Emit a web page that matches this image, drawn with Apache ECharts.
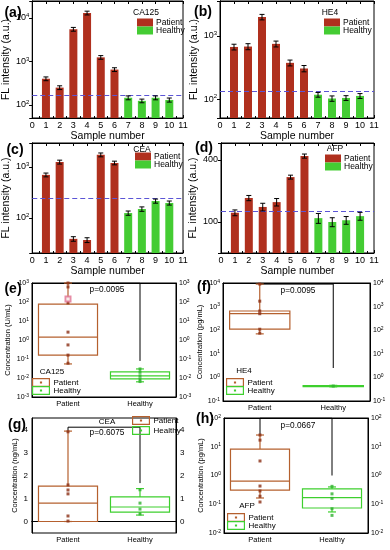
<!DOCTYPE html>
<html><head><meta charset="utf-8">
<script src="https://cdn.jsdelivr.net/npm/echarts@6/dist/echarts.min.js"></script>
<style>html,body{margin:0;padding:0;background:#fff}#c{width:390px;height:550px}</style>
</head><body><div id="c"></div>
<script>
// ---------------- DATA ----------------
const sampleTicks = [0,1,2,3,4,5,6,7,8,9,10,11];
const patientSamples = [1,2,3,4,5,6];
const healthySamples = [7,8,9,10];

const ca125Patient = [400, 250, 5500, 13000, 1240, 650];
const ca125PatientErr = [40, 25, 550, 1300, 120, 65];
const ca125Healthy = [146, 124, 146, 130];
const ca125HealthyErr = [15, 12, 15, 14];
const ca125Cutoff = 170;

const he4Patient = [670, 680, 2000, 750, 375, 305];
const he4PatientErr = [70, 75, 200, 80, 40, 35];
const he4Healthy = [117, 102, 104, 112];
const he4HealthyErr = [10, 10, 9, 10];
const he4Cutoff = 135;

const ceaPatient = [700, 1250, 39, 37, 1730, 1200];
const ceaPatientErr = [60, 110, 4, 4, 150, 100];
const ceaHealthy = [125, 150, 215, 197];
const ceaHealthyErr = [12, 15, 20, 18];
const ceaCutoff = 245;

const afpPatient = [123, 171, 140, 156, 273, 437];
const afpPatientErr = [8, 10, 12, 13, 12, 20];
const afpHealthy = [109, 100, 104, 114];
const afpHealthyErr = [12, 10, 9, 10];
const afpCutoff = 126;
const afpTicks = [100, 400];

const groups = ['Patient', 'Healthy'];
// box stats: [min, Q1, median, Q3, max]
const ca125BoxPatient = [0.055, 0.16, 1.4, 78, 1000];
const ca125BoxHealthy = [0.0063, 0.0089, 0.013, 0.021, 0.03];
const ca125DotsPatient = [1000, 620, 90, 2.6, 0.55, 0.16, 0.06];
const ca125DotsHealthy = [0.03, 0.02, 0.013, 0.009, 0.0065];
const ca125MeanPatient = [144];
const ca125Bracket = [1000, 1000, 0.079]; // patient leg start, top, healthy leg end
const ca125PValue = 'p=0.0095';

const he4BoxPatient = [70, 110, 500, 650, 9000];
const he4BoxHealthy = [0.40, 0.41, 0.43, 0.45, 0.46];
const he4DotsPatient = [9000, 1700, 650, 500, 110, 75];
const he4DotsHealthy = [0.43];
const he4Bracket = [9000, 9000, 2.5];
const he4PValue = 'p=0.0095';

const ceaBoxPatient = [0, 0, 0.8, 1.54, 3.93];
const ceaBoxHealthy = [0.28, 0.41, 0.63, 1.07, 1.43];
const ceaDotsPatient = [3.9, 1.59, 1.37, 1.2, 0.24, 0.02];
const ceaDotsHealthy = [1.38, 0.8, 0.54, 0.33];
const ceaBracket = [3.93, 4.1, 1.67];
const ceaPValue = 'p=0.6075';
const ceaTicks = [0, 1, 2, 3, 4];

const afpBoxPatient = [0.165, 0.31, 0.64, 8.3, 25.6];
const afpBoxHealthy = [0.054, 0.074, 0.17, 0.34, 0.40];
const afpDotsPatient = [25.6, 17, 3.2, 0.43, 0.29, 0.19, 0.12];
const afpDotsHealthy = [0.42, 0.23, 0.16, 0.07, 0.041];
const afpBracket = [25.6, 100, 1.0];
const afpPValue = 'p=0.0667';

// ---------------- STYLE ----------------
const FONT = '"Liberation Sans", Arial, sans-serif';
const PAT = '#b0301e', HEA = '#44cc33';
const PATBOX = '#b5602e', HEABOX = '#3ecf2e';
const PATDOT = '#8b3015', HEADOT = '#30b030';

function logLabel(fs, ss) {
  return {
    fontFamily: FONT, color: '#000', fontSize: fs,
    formatter: v => '{b|10}{s|' + Math.round(Math.log10(v)) + '}',
    rich: { b: { fontSize: fs, fontFamily: FONT, color: '#000' },
            s: { fontSize: ss, fontFamily: FONT, color: '#000', verticalAlign: 'top', padding: [0,0,fs*0.5,0] } }
  };
}

const grids = [], xAxes = [], yAxes = [], series = [], legends = [], graphics = [];

function errRender(params, api) {
  const x = api.value(0), v = api.value(1), e = api.value(2);
  const p1 = api.coord([x, v + e]), p2 = api.coord([x, v - e]);
  const cw = 2.5, st = { stroke: '#000', lineWidth: 1 };
  return { type: 'group', children: [
    { type: 'line', shape: { x1: p1[0], y1: p1[1], x2: p2[0], y2: p2[1] }, style: st },
    { type: 'line', shape: { x1: p1[0]-cw, y1: p1[1], x2: p1[0]+cw, y2: p1[1] }, style: st },
    { type: 'line', shape: { x1: p2[0]-cw, y1: p2[1], x2: p2[0]+cw, y2: p2[1] }, style: st }
  ]};
}

function boxRender(color) {
  return function (params, api) {
    const c = api.value(0);
    const mn = api.value(1), q1 = api.value(2), md = api.value(3), q3 = api.value(4), mx = api.value(5);
    const a = api.coord([c, q3]), b = api.coord([c, q1]);
    const band = Math.abs(api.coord([1, md])[0] - api.coord([0, md])[0]);
    const hw = band * 0.41, x = a[0];
    const ymd = api.coord([c, md])[1], ymn = api.coord([c, mn])[1], ymx = api.coord([c, mx])[1];
    const st = { stroke: color, lineWidth: 1.2, fill: 'transparent' };
    const cw = 4;
    return { type: 'group', children: [
      { type: 'rect', shape: { x: x-hw, y: a[1], width: 2*hw, height: Math.max(b[1]-a[1], 0.5) }, style: st },
      { type: 'line', shape: { x1: x-hw, y1: ymd, x2: x+hw, y2: ymd }, style: st },
      { type: 'line', shape: { x1: x, y1: a[1], x2: x, y2: ymx }, style: st },
      { type: 'line', shape: { x1: x, y1: b[1], x2: x, y2: ymn }, style: st },
      { type: 'line', shape: { x1: x-cw, y1: ymx, x2: x+cw, y2: ymx }, style: st },
      { type: 'line', shape: { x1: x-cw, y1: ymn, x2: x+cw, y2: ymn }, style: st }
    ]};
  };
}

function text(x, y, t, fs, bold, align) {
  graphics.push({ type: 'text', x: x, y: y, style: { text: t, fontSize: fs, fontFamily: FONT,
    fontWeight: bold ? 'bold' : 'normal', fill: '#000', align: align || 'center', verticalAlign: 'middle' } });
}

function barPanel(p) {
  const gi = grids.length;
  grids.push(Object.assign({ show: true, borderColor: '#000', borderWidth: 1, backgroundColor: 'transparent' }, p.grid));
  const xi = xAxes.length, yi = yAxes.length;
  xAxes.push({ gridIndex: gi, type: 'value', min: 0, max: 11, interval: 1, position: 'bottom',
    axisLine: { lineStyle: { color: '#000' } }, splitLine: { show: false },
    axisTick: { inside: true, length: 3, lineStyle: { color: '#000' } },
    minorTick: { show: true, splitNumber: 2, length: 2, lineStyle: { color: '#000' } },
    axisLabel: { fontSize: 9, fontFamily: FONT, color: '#000', margin: 3,
      customValues: sampleTicks },
    name: 'Sample number', nameLocation: 'middle', nameGap: 11,
    nameTextStyle: { fontSize: 10.5, fontFamily: FONT, color: '#000' } });
  xAxes.push({ gridIndex: gi, type: 'value', min: 0, max: 11, interval: 1, position: 'top',
    axisLine: { lineStyle: { color: '#000' } }, splitLine: { show: false }, axisLabel: { show: false },
    axisTick: { inside: true, length: 3, lineStyle: { color: '#000' } } });
  const yBase = { gridIndex: gi, type: 'log', min: p.ymin, max: p.ymax, splitLine: { show: false },
    axisLine: { show: true, lineStyle: { color: '#000' } } };
  const left = Object.assign({}, yBase, { position: 'left',
    axisTick: { inside: false, length: 3, lineStyle: { color: '#000' } },
    name: 'FL intensity (a.u.)', nameLocation: 'middle', nameGap: p.nameGap,
    nameTextStyle: { fontSize: 10.5, fontFamily: FONT, color: '#000' } });
  if (p.customTicks) {
    left.axisLabel = { fontSize: 9, fontFamily: FONT, color: '#000', margin: 3, customValues: p.customTicks };
    left.axisTick.customValues = p.customTicks;
  } else {
    left.axisLabel = Object.assign(logLabel(9, 6), { margin: 3, showMinLabel: false, showMaxLabel: false });
  }
  yAxes.push(left);
  yAxes.push(Object.assign({}, yBase, { position: 'right', axisLabel: { show: false },
    axisTick: { inside: true, length: 3, lineStyle: { color: '#000' } } }));
  const common = { type: 'bar', xAxisIndex: xi, yAxisIndex: yi, barWidth: 8, barGap: '-100%', z: 2 };
  series.push(Object.assign({}, common, { name: 'Patient', itemStyle: { color: PAT },
    data: patientSamples.map((s, i) => [s, p.pat[i]]),
    markLine: { symbol: 'none', silent: true, label: { show: false },
      lineStyle: { type: [5, 3], color: '#5b55d6', width: 1.2 }, data: [{ yAxis: p.cutoff }] } }));
  series.push(Object.assign({}, common, { name: 'Healthy', itemStyle: { color: HEA },
    data: healthySamples.map((s, i) => [s, p.hea[i]]) }));
  series.push({ type: 'custom', xAxisIndex: xi, yAxisIndex: yi, renderItem: errRender, silent: true, z: 5,
    encode: { x: 0, y: 1 },
    data: patientSamples.map((s, i) => [s, p.pat[i], p.patErr[i]])
      .concat(healthySamples.map((s, i) => [s, p.hea[i], p.heaErr[i]])) });
  legends.push({ left: p.legend[0], top: p.legend[1], orient: 'vertical', itemGap: -1, padding: 0,
    itemWidth: 16, itemHeight: 8, icon: 'rect', selectedMode: false,
    textStyle: { fontSize: 8.5, fontFamily: FONT, color: '#000', padding: [0,0,0,-2] },
    data: [{ name: 'Patient', itemStyle: { color: PAT } }, { name: 'Healthy', itemStyle: { color: HEA } }] });
  text(p.title[0], p.title[1], p.titleText, 8.5, false);
  text(p.label[0], p.label[1], p.labelText, 14, true);
}

const BOXICON = 'path://M0,0H20V10H0Z M1.3,1.3V8.7H18.7V1.3Z M8.8,3.8H11.2V6.2H8.8Z';

function boxPanel(p) {
  const gi = grids.length;
  grids.push(Object.assign({ show: true, borderColor: '#000', borderWidth: 1, backgroundColor: 'transparent' }, p.grid));
  const xi = xAxes.length, yi = yAxes.length;
  xAxes.push({ gridIndex: gi, type: 'category', data: groups, position: 'bottom', boundaryGap: true,
    axisLine: { lineStyle: { color: '#000' } },
    axisTick: { inside: true, length: 3, alignWithLabel: true, lineStyle: { color: '#000' } },
    axisLabel: { fontSize: 7.5, fontFamily: FONT, color: '#000', margin: 3 } });
  xAxes.push({ gridIndex: gi, type: 'category', data: groups, position: 'top', boundaryGap: true,
    axisLine: { lineStyle: { color: '#000' } }, axisLabel: { show: false },
    axisTick: { inside: true, length: 3, alignWithLabel: true, lineStyle: { color: '#000' } } });
  const yBase = { gridIndex: gi, type: p.log ? 'log' : 'value', min: p.ymin, max: p.ymax, splitLine: { show: false },
    axisLine: { show: true, lineStyle: { color: '#000' } },
    axisTick: { inside: true, length: 3, lineStyle: { color: '#000' } } };
  let lab;
  if (p.log) lab = Object.assign(logLabel(7, 5), { margin: 3 });
  else {
    lab = { fontSize: 8, fontFamily: FONT, color: '#000', margin: 4, customValues: p.ticks };
    yBase.axisTick.customValues = p.ticks;
  }
  yAxes.push(Object.assign({}, yBase, { position: 'left', axisLabel: lab,
    name: p.yname, nameLocation: 'middle', nameGap: p.nameGap,
    nameTextStyle: { fontSize: 7.5, fontFamily: FONT, color: '#000' } }));
  yAxes.push(Object.assign({}, yBase, { position: 'right', axisLabel: lab }));
  series.push({ type: 'custom', xAxisIndex: xi, yAxisIndex: yi, renderItem: boxRender(PATBOX), silent: true,
    encode: { x: 0, y: [1,2,3,4,5] }, z: 3, data: [[0].concat(p.boxP)] });
  series.push({ type: 'custom', xAxisIndex: xi, yAxisIndex: yi, renderItem: boxRender(HEABOX), silent: true,
    encode: { x: 0, y: [1,2,3,4,5] }, z: 3, data: [[1].concat(p.boxH)] });
  series.push({ type: 'line', xAxisIndex: xi, yAxisIndex: yi, symbol: 'none', silent: true, z: 2,
    lineStyle: { color: '#000', width: 1 },
    data: [[0, p.bracket[0]], [0, p.bracket[1]], [1, p.bracket[1]], [1, p.bracket[2]]] });
  series.push({ type: 'scatter', xAxisIndex: xi, yAxisIndex: yi, symbol: 'rect', symbolSize: 3, silent: true, z: 4,
    itemStyle: { color: PATDOT }, data: p.dotsP.map(v => [0, v]) });
  series.push({ type: 'scatter', xAxisIndex: xi, yAxisIndex: yi, symbol: 'rect', symbolSize: 3, silent: true, z: 4,
    itemStyle: { color: HEADOT }, data: p.dotsH.map(v => [1, v]) });
  if (p.mean) series.push({ type: 'scatter', xAxisIndex: xi, yAxisIndex: yi, symbol: 'emptyRect', symbolSize: 5,
    silent: true, z: 4, itemStyle: { color: '#e07090' }, data: p.mean.map(v => [0, v]) });
  legends.push({ left: p.legend[0], top: p.legend[1], orient: 'vertical', itemGap: p.legendGap || -1, padding: 0,
    itemWidth: 19, itemHeight: 9, selectedMode: false,
    textStyle: { fontSize: 8, fontFamily: FONT, color: '#000', padding: [0,0,0,-2] },
    data: [{ name: 'Patient', icon: BOXICON, itemStyle: { color: PATBOX, borderWidth: 0 } },
           { name: 'Healthy', icon: BOXICON, itemStyle: { color: HEABOX, borderWidth: 0 } }] });
  text(p.title[0], p.title[1], p.titleText, 8, false);
  text(p.pPos[0], p.pPos[1], p.pText, 8.3, false);
  text(p.label[0], p.label[1], p.labelText, 14, true);
}

barPanel({ grid: { left: 31, top: 1, width: 152, height: 117 }, ymin: 50, ymax: 24500, nameGap: 17,
  pat: ca125Patient, patErr: ca125PatientErr, hea: ca125Healthy, heaErr: ca125HealthyErr, cutoff: ca125Cutoff,
  legend: [137, 18], title: [146, 13], titleText: 'CA125', label: [13, 13], labelText: '(a)' });
barPanel({ grid: { left: 220, top: 1, width: 154, height: 117 }, ymin: 50, ymax: 3590, nameGap: 11,
  pat: he4Patient, patErr: he4PatientErr, hea: he4Healthy, heaErr: he4HealthyErr, cutoff: he4Cutoff,
  legend: [324, 18], title: [330, 13], titleText: 'HE4', label: [203, 12], labelText: '(b)' });
barPanel({ grid: { left: 31, top: 143, width: 152, height: 110 }, ymin: 20.6, ymax: 2950, nameGap: 17,
  pat: ceaPatient, patErr: ceaPatientErr, hea: ceaHealthy, heaErr: ceaHealthyErr, cutoff: ceaCutoff,
  legend: [135, 152], title: [142, 150], titleText: 'CEA', label: [15, 150], labelText: '(c)' });
barPanel({ grid: { left: 221, top: 143, width: 153, height: 110 }, ymin: 50, ymax: 585, nameGap: 16,
  customTicks: afpTicks,
  pat: afpPatient, patErr: afpPatientErr, hea: afpHealthy, heaErr: afpHealthyErr, cutoff: afpCutoff,
  legend: [325, 154], title: [335, 149], titleText: 'AFP', label: [204, 148], labelText: '(d)' });

boxPanel({ grid: { left: 32, top: 283, width: 144, height: 114 }, log: true, ymin: 0.001, ymax: 1000,
  yname: 'Concentration (U/mL)', nameGap: 20,
  boxP: ca125BoxPatient, boxH: ca125BoxHealthy, dotsP: ca125DotsPatient, dotsH: ca125DotsHealthy,
  mean: ca125MeanPatient, bracket: ca125Bracket, pText: ca125PValue, pPos: [107, 290],
  legend: [32, 378], title: [52, 372], titleText: 'CA125', label: [13, 289], labelText: '(e)' });
boxPanel({ grid: { left: 223, top: 283, width: 147, height: 118 }, log: true, ymin: 0.1, ymax: 10000,
  yname: 'Concentration (pg/mL)', nameGap: 17,
  boxP: he4BoxPatient, boxH: he4BoxHealthy, dotsP: he4DotsPatient, dotsH: he4DotsHealthy,
  bracket: he4Bracket, pText: he4PValue, pPos: [298, 291],
  legend: [226, 378], title: [244, 371], titleText: 'HE4', label: [204, 287], labelText: '(f)' });
boxPanel({ grid: { left: 32, top: 418, width: 144, height: 115 }, log: false, ymin: -0.5, ymax: 4.5, ticks: ceaTicks,
  yname: 'Concentration (ng/mL)', nameGap: 13,
  boxP: ceaBoxPatient, boxH: ceaBoxHealthy, dotsP: ceaDotsPatient, dotsH: ceaDotsHealthy,
  bracket: ceaBracket, pText: ceaPValue, pPos: [107, 433], legendGap: 1,
  legend: [132, 416], title: [107, 422], titleText: 'CEA', label: [17, 425], labelText: '(g)' });
boxPanel({ grid: { left: 224, top: 418, width: 144, height: 115 }, log: true, ymin: 0.01, ymax: 100,
  yname: 'Concentration (pg/mL)', nameGap: 18,
  boxP: afpBoxPatient, boxH: afpBoxHealthy, dotsP: afpDotsPatient, dotsH: afpDotsHealthy,
  bracket: afpBracket, pText: afpPValue, pPos: [298, 426],
  legend: [227, 513], title: [247, 506], titleText: 'AFP', label: [205, 419], labelText: '(h)' });

const chart = echarts.init(document.getElementById('c'), null, { renderer: 'canvas' });
chart.setOption({
  animation: false,
  backgroundColor: '#fff',
  textStyle: { fontFamily: FONT },
  grid: grids, xAxis: xAxes, yAxis: yAxes, series: series, legend: legends,
  graphic: { elements: graphics }
});
</script></body></html>
